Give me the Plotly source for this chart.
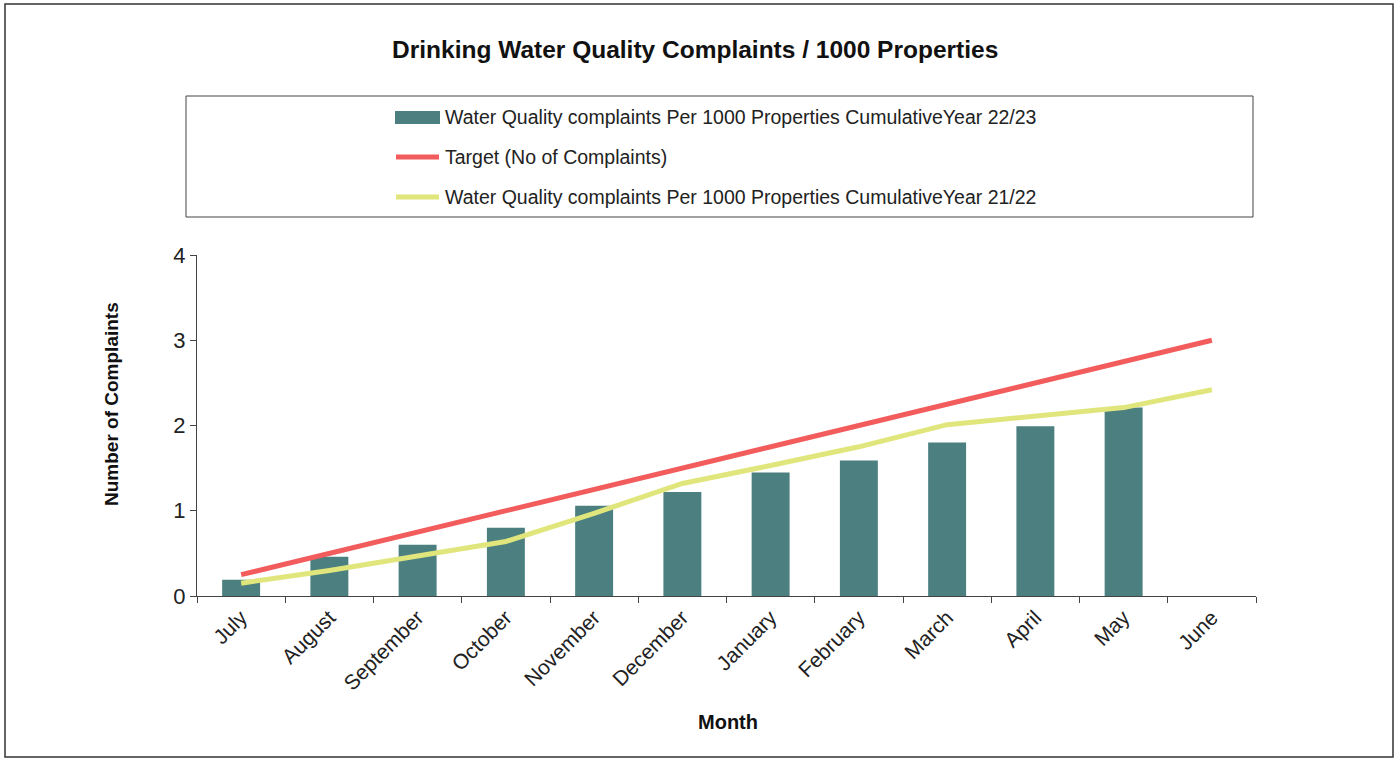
import plotly.graph_objects as go

months = ["July", "August", "September", "October", "November", "December",
          "January", "February", "March", "April", "May", "June"]
complaints_22_23 = [0.19, 0.46, 0.60, 0.80, 1.06, 1.22, 1.45, 1.59, 1.80, 1.99, 2.21, None]
target = [0.25, 0.50, 0.75, 1.00, 1.25, 1.50, 1.75, 2.00, 2.25, 2.50, 2.75, 3.00]
complaints_21_22 = [0.15, 0.30, 0.47, 0.64, 0.97, 1.32, 1.53, 1.75, 2.01, 2.11, 2.21, 2.42]

name_bar = "Water Quality complaints Per 1000 Properties CumulativeYear 22/23"
name_target = "Target (No of Complaints)"
name_prev = "Water Quality complaints Per 1000 Properties CumulativeYear 21/22"

C_BAR, C_RED, C_YEL = "#4b7f80", "#f25c5c", "#e0e67c"

W, H = 1398, 758
L, R, T, B = 197, 142, 255, 162
pw, ph = W - L - R, H - T - B


def px(x):
    return (x - L) / pw


def py(y):
    return (H - B - y) / ph


FONT = "Arial, Liberation Sans, sans-serif"

fig = go.Figure()
fig.add_trace(go.Bar(
    x=months, y=complaints_22_23, width=0.43,
    marker=dict(color=C_BAR, line=dict(width=0)), name=name_bar,
))
fig.add_trace(go.Scatter(
    x=months, y=target, mode="lines",
    line=dict(color=C_RED, width=5), name=name_target,
))
fig.add_trace(go.Scatter(
    x=months, y=complaints_21_22, mode="lines",
    line=dict(color=C_YEL, width=5), name=name_prev,
))

fig.update_layout(
    width=W, height=H,
    margin=dict(l=L, r=R, t=T, b=B, autoexpand=False),
    paper_bgcolor="white", plot_bgcolor="white",
    font=dict(family=FONT, color="#000000"),
    showlegend=False,
)
fig.update_xaxes(
    type="category", showline=True, linecolor="#444", linewidth=1,
    ticks="outside", ticklen=6, tickcolor="#444", tickson="boundaries",
    tickangle=-45, tickfont=dict(size=21, family=FONT, color="#222"),
    showgrid=False, zeroline=False,
)
fig.update_yaxes(
    range=[0, 4], tickvals=[0, 1, 2, 3, 4], showline=True, linecolor="#444",
    linewidth=1, ticks="outside", ticklen=6, tickcolor="#444",
    tickfont=dict(size=22, family=FONT, color="#222"),
    showgrid=False, zeroline=False,
)


def label(text, x, y, size, angle=0, xanchor="center"):
    fig.add_annotation(
        text=text, x=px(x), y=py(y), xref="paper", yref="paper",
        xanchor=xanchor, yanchor="middle", showarrow=False, textangle=angle,
        font=dict(size=size, family=FONT, color="#111"),
    )


label("<b>Drinking Water Quality Complaints / 1000 Properties</b>", 695, 49, 24.5)
label("<b>Number of Complaints</b>", 111, 404, 19, angle=-90)
label("<b>Month</b>", 728, 722, 20)

# legend box
fig.add_shape(
    type="rect", xref="paper", yref="paper",
    x0=px(186), x1=px(1253), y0=py(217), y1=py(96),
    line=dict(color="#444", width=1), fillcolor="rgba(0,0,0,0)",
)
# legend entries
rows = [(name_bar, "bar", C_BAR, 117), (name_target, "line", C_RED, 157),
        (name_prev, "line", C_YEL, 197)]
for text, kind, col, yc in rows:
    if kind == "bar":
        fig.add_shape(type="rect", xref="paper", yref="paper",
                      x0=px(395), x1=px(440), y0=py(yc + 7), y1=py(yc - 6),
                      line=dict(width=0), fillcolor=col)
    else:
        fig.add_shape(type="line", xref="paper", yref="paper",
                      x0=px(396), x1=px(439), y0=py(yc), y1=py(yc),
                      line=dict(color=col, width=5))
    fig.add_annotation(text=text, x=px(443), y=py(yc), xref="paper", yref="paper",
                       xanchor="left", yanchor="middle", showarrow=False,
                       font=dict(size=19.5, family=FONT, color="#222"))

# outer chart border
fig.add_shape(
    type="rect", xref="paper", yref="paper",
    x0=px(5), x1=px(1393), y0=py(757), y1=py(4),
    line=dict(color="#333", width=1.5), fillcolor="rgba(0,0,0,0)",
)

fig.write_html("out.html", config={"displayModeBar": False},
               post_script="document.body.style.margin='0';")
